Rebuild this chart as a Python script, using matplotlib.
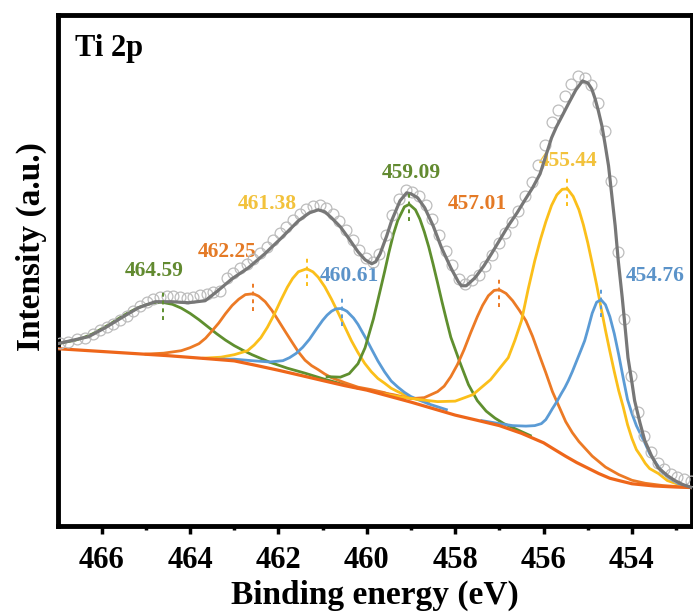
import matplotlib
matplotlib.use('Agg')
import matplotlib.pyplot as plt
from matplotlib.ticker import MultipleLocator

plt.rcParams['font.family'] = ['Liberation Serif', 'DejaVu Serif']
plt.rcParams['font.weight'] = 'bold'

# measured spectrum (open circles)
meas_be = [466.94, 466.76, 466.57, 466.38, 466.19, 466.04, 465.89, 465.74, 465.59, 465.43,
           465.29, 465.13, 464.98, 464.83, 464.68, 464.53, 464.38, 464.23, 464.08, 463.93,
           463.78, 463.62, 463.48, 463.32, 463.17, 463.02, 462.87, 462.72, 462.57, 462.42,
           462.27, 462.12, 461.97, 461.82, 461.67, 461.52, 461.37, 461.22, 461.07, 460.92,
           460.77, 460.62, 460.47, 460.32, 460.17, 460.02, 459.87, 459.72, 459.57, 459.42,
           459.27, 459.12, 458.97, 458.82, 458.67, 458.52, 458.37, 458.22, 458.07, 457.92,
           457.77, 457.62, 457.47, 457.32, 457.17, 457.02, 456.87, 456.72, 456.57, 456.42,
           456.27, 456.12, 455.97, 455.82, 455.67, 455.52, 455.37, 455.22, 455.07, 454.92,
           454.77, 454.62, 454.47, 454.32, 454.17, 454.02, 453.87, 453.72, 453.57, 453.42,
           453.27, 453.12, 452.97, 452.82, 452.67]
meas_int = [183, 184, 187, 188, 192, 196, 199, 202, 206, 210,
            215, 220, 224, 227, 229, 230, 230, 229, 228, 229,
            231, 232, 234, 235, 248, 253, 258, 262, 267, 273,
            279, 286, 293, 299, 306, 312, 317, 320, 321, 318,
            312, 305, 296, 286, 276, 268, 264, 272, 291, 311,
            327, 336, 334, 330, 321, 307, 291, 275, 261, 247,
            242, 246, 251, 260, 271, 283, 293, 304, 315, 330,
            344, 361, 381, 404, 416, 430, 442, 450, 448, 441,
            423, 395, 345, 274, 207, 150, 114, 90, 74, 63,
            57, 52, 49, 47, 45]

# fitted envelope
fit_be = [467.00, 466.60, 466.30, 465.92, 465.55, 465.17, 464.79, 464.42, 464.04, 463.66,
          463.40, 463.05, 462.68, 462.31, 461.93, 461.55, 461.30, 461.10, 460.95, 460.80,
          460.60, 460.42, 460.20, 460.04, 459.89, 459.80, 459.70, 459.55, 459.44, 459.25,
          459.10, 459.00, 458.85, 458.69, 458.50, 458.31, 458.10, 457.93, 457.86, 457.75,
          457.55, 457.35, 457.18, 456.80, 456.60, 456.42, 456.25, 456.08, 455.95, 455.82,
          455.71, 455.58, 455.44, 455.27, 455.12, 455.00, 454.91, 454.84, 454.76, 454.68,
          454.61, 454.53, 454.46, 454.38, 454.31, 454.22, 454.15, 454.09, 454.00, 453.94,
          453.82, 453.71, 453.56, 453.41, 453.20, 453.03, 452.85, 452.65]
fit_int = [182, 186, 189, 198, 208, 218, 224, 224, 223, 225,
           234, 247, 258, 272, 288, 305, 313, 316, 314, 308,
           299, 288, 274, 266, 262, 264, 272, 290, 305, 325,
           333, 332, 328, 318, 300, 278, 258, 244, 240, 240,
           248, 260, 272, 300, 313, 326, 338, 352, 370, 388,
           399, 410, 422, 436, 445, 443, 437, 428, 415, 400,
           382, 360, 332, 300, 265, 228, 196, 168, 143, 125,
           103, 85, 70, 58, 50, 45, 41, 38]

# Shirley background
bg_be = [467.0, 466.5, 466.0, 465.5, 465.0, 464.5, 464.0, 463.5, 463.0, 462.5,
         462.0, 461.5, 461.0, 460.5, 460.0, 459.5, 459.0, 458.5, 458.0, 457.5,
         457.0, 456.5, 456.0, 455.75, 455.5, 455.25, 455.0, 454.75, 454.5, 454.25,
         454.0, 453.5, 453.0, 452.65]
bg_int = [177, 175.6, 174.2, 172.8, 171.4, 170, 168.3, 166.6, 164.8, 160.2,
          155.4, 150.3, 145.1, 140, 135.5, 129.5, 123.5, 117, 110.5, 105.3,
          100, 92.3, 82.8, 76, 69.3, 63, 57.5, 52, 47.3, 44.5,
          41.8, 39.6, 38.5, 38]

# fitted components (background included)
g1_be = [467.0, 466.6, 466.4, 466.2, 466.0, 465.8, 465.6, 465.4, 465.2, 465.0,
         464.8, 464.62, 464.4, 464.2, 464.0, 463.8, 463.6, 463.4, 463.2, 463.0,
         462.8, 462.6, 462.2, 461.8, 461.4, 461.0, 460.6, 460.2]
g1_int = [182, 185.5, 188.3, 192, 197, 202, 207.7, 213, 217.5, 221,
          222.9, 223.3, 221.4, 217.6, 212.3, 206, 199, 192, 185.6, 180,
          175.3, 171, 163.5, 157.5, 152.5, 147, 142, 137.5]

o1_be = [465.0, 464.6, 464.2, 464.0, 463.8, 463.65, 463.5, 463.35, 463.2, 463.05,
         462.9, 462.75, 462.57, 462.45, 462.3, 462.15, 462.0, 461.85, 461.7, 461.55,
         461.4, 461.25, 461.1, 460.95, 460.8, 460.5, 460.2, 459.9, 459.6, 459.2]
o1_int = [171.6, 172.5, 175, 178, 182, 187.5, 195, 202.8, 212, 220.2,
          226.5, 231.1, 232, 229.6, 224, 215.4, 205, 194.4, 184, 173.8,
          165.5, 160, 156, 151.6, 148, 143, 138.5, 136, 133, 126.5]

y1_be = [463.7, 463.3, 463.0, 462.7, 462.55, 462.4, 462.25, 462.1, 461.95, 461.8,
         461.68, 461.55, 461.36, 461.22, 461.1, 460.95, 460.8, 460.65, 460.5, 460.35,
         460.2, 460.05, 459.9, 459.75, 459.6, 459.45, 459.3, 459.0, 458.6]
y1_int = [167.5, 168.5, 171, 175, 180.7, 188, 198.5, 211, 225.2, 238.5,
          247.3, 254, 257, 253.9, 248.5, 238.8, 226.5, 213, 199, 185,
          173, 162.4, 154, 147.2, 142.5, 137.4, 134, 128, 123]

b1_be = [463.4, 463.0, 462.6, 462.2, 461.9, 461.75, 461.6, 461.45, 461.3, 461.15,
         461.0, 460.9, 460.8, 460.7, 460.57, 460.45, 460.3, 460.2, 460.1, 460.0,
         459.9, 459.75, 459.6, 459.45, 459.3, 459.15, 459.0, 458.6, 458.2]
b1_int = [166.5, 166.5, 165, 163.7, 165, 168, 172.3, 178.5, 186.4, 196.1,
          205.4, 210.6, 214.5, 216.9, 217.2, 214.4, 207.6, 201.3, 193.4, 185.6,
          177.1, 164.7, 153.9, 144.7, 138.6, 133.3, 129, 121.7, 116]

g2_be = [460.9, 460.6, 460.4, 460.2, 460.04, 459.85, 459.7, 459.6, 459.5, 459.4,
         459.3, 459.15, 459.04, 458.9, 458.8, 458.7, 458.6, 458.5, 458.4, 458.3,
         458.2, 458.1, 457.9, 457.7, 457.5, 457.3, 457.1, 456.9, 456.6, 456.3]
g2_int = [149, 148.5, 152, 162, 178, 207, 235, 253.8, 273.5, 291.4,
          305.5, 319, 321.5, 316, 306.8, 294, 279, 261.5, 243, 224,
          206, 188.5, 164, 141, 125, 114.5, 107.5, 102, 96, 90]

o2_be = [459.8, 459.4, 459.0, 458.7, 458.4, 458.25, 458.1, 457.95, 457.8, 457.65,
         457.5, 457.38, 457.25, 457.12, 457.0, 456.85, 456.7, 456.55, 456.4, 456.25,
         456.1, 455.95, 455.8, 455.65, 455.5, 455.35, 455.2, 454.9, 454.6, 454.3,
         454.0, 453.7, 453.3, 452.9, 452.7]
o2_int = [134, 131, 127, 128, 134, 139.5, 149, 161.1, 176, 193,
          209, 220.4, 230, 235.3, 236, 232.3, 225, 215.5, 205, 189.4,
          171, 153, 134, 119, 104, 93, 84, 69.5, 58.5, 51,
          45.3, 42.3, 40, 38.8, 38.2]

y2_be = [459.6, 459.2, 458.8, 458.4, 458.0, 457.6, 457.2, 456.8, 456.65, 456.5,
         456.35, 456.2, 456.07, 455.95, 455.82, 455.7, 455.58, 455.46, 455.33, 455.2,
         455.1, 455.0, 454.9, 454.8, 454.7, 454.6, 454.5, 454.4, 454.3, 454.2,
         454.1, 454.0, 453.9, 453.8, 453.7, 453.6, 453.4, 453.2, 453.0, 452.8,
         452.65]
y2_int = [131.5, 128.5, 126, 124, 124.5, 131, 146, 168, 185.3, 205,
          236.4, 265, 286.5, 304, 320.4, 331, 336.5, 337, 329.4, 316,
          301, 283, 262.4, 241, 218.1, 195.5, 174.3, 154, 135, 119,
          101, 87, 76, 69.5, 62.3, 57, 52, 45, 42, 39.7,
          38]

b2_be = [457.4, 457.0, 456.7, 456.4, 456.2, 456.05, 455.95, 455.88, 455.8, 455.7,
         455.6, 455.52, 455.44, 455.35, 455.25, 455.15, 455.07, 455.0, 454.9, 454.8,
         454.7, 454.6, 454.5, 454.4, 454.3, 454.2, 454.1, 454.0, 453.9, 453.8,
         453.7, 453.6, 453.45, 453.3, 453.18, 452.95, 452.8, 452.65]
b2_int = [105, 102, 100, 99.5, 100, 102, 106, 111, 117, 124,
          132, 138, 145, 154, 165, 176, 185, 196, 212.5, 223.5,
          226, 221, 209, 192, 171, 148, 126, 112, 100, 91,
          82, 72, 62, 53, 48, 42, 40, 38.5]

# peak annotations
peak_labels = ['464.59', '462.25', '461.38', '460.61', '459.09', '457.01', '455.44', '454.76']
peak_pos = [464.62, 462.57, 461.36, 460.57, 459.04, 457.00, 455.46, 454.70]
peak_top = [223, 232, 257, 217, 322, 236, 337, 226]

GREEN = '#5f8f2f'
ORANGE = '#ec7a25'
YELLOW = '#fbbf1a'
BLUE = '#5b9bd5'
BG_ORANGE = '#ee661a'
GREY = '#777777'

line_colors = [GREEN, ORANGE, YELLOW, BLUE, GREEN, ORANGE, YELLOW, BLUE]
text_colors = ['#628a30', '#e47a26', '#f2c23c', '#5b93c9', '#628a30', '#e47a26', '#f2c23c', '#5b93c9']
label_offsets = [(-9, 32), (-26, 42), (-39, 65), (8, 33), (2, 31), (-22, 86), (1, 28), (54, 24)]

fig = plt.figure(figsize=(6.93, 6.12), dpi=100)
ax = fig.add_axes([0.0837, 0.1413, 0.9143, 0.8342])

components = [(g1_be, g1_int), (o1_be, o1_int), (y1_be, y1_int), (b1_be, b1_int),
              (g2_be, g2_int), (o2_be, o2_int), (y2_be, y2_int), (b2_be, b2_int)]
for (be, inten), c in zip(components, line_colors):
    ax.plot(be, inten, color=c, lw=2.0, zorder=2, solid_joinstyle='round')
ax.plot(bg_be, bg_int, color=BG_ORANGE, lw=2.3, zorder=3, solid_joinstyle='round')

ax.plot(meas_be, meas_int, 'o', ms=7.8, mfc='none', mec='#bcbcbc', mew=0.9, zorder=4)
ax.plot(fit_be, fit_int, color=GREY, lw=2.3, zorder=5, solid_joinstyle='round')

for pos, top, lab, lc, tc, off in zip(peak_pos, peak_top, peak_labels,
                                       line_colors, text_colors, label_offsets):
    ax.vlines(pos, top - 17, top + 14, colors=lc, linestyles=(0, (2, 2)), lw=1.4, zorder=6)
    ax.annotate(lab, (pos, top), xytext=off, textcoords='offset pixels',
                ha='center', va='center', color=tc, fontsize=15.5, fontweight='bold')

ax.text(0.027, 0.935, 'Ti 2p', transform=ax.transAxes, fontsize=22,
        fontweight='bold', ha='left', va='center')

ax.set_xlim(466.99, 452.65)
ax.set_ylim(0, 511)
ax.xaxis.set_major_locator(MultipleLocator(2))
ax.xaxis.set_minor_locator(MultipleLocator(1))
ax.set_yticks([])
ax.tick_params(axis='x', which='major', direction='out', length=5.5, width=2.5,
               labelsize=22, pad=9)
ax.tick_params(axis='x', which='minor', direction='out', length=3, width=2.5)
for s in ax.spines.values():
    s.set_linewidth(3.5)

ax.set_xlabel('Binding energy (eV)', fontsize=24, fontweight='bold', labelpad=4)
ax.set_ylabel('Intensity (a.u.)', fontsize=24, fontweight='bold')
ax.yaxis.set_label_coords(-0.017, 0.546)

fig.savefig('out.png', dpi=100, facecolor='white')
